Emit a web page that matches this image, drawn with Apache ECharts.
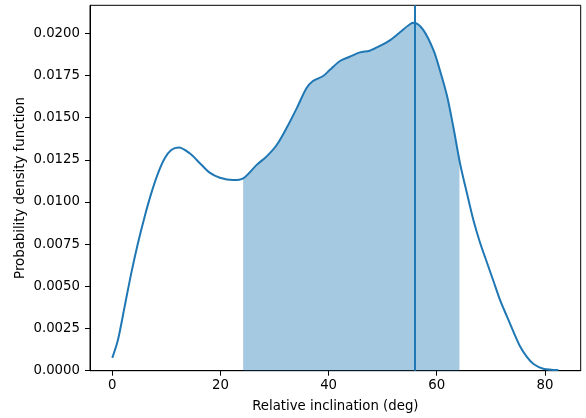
<!DOCTYPE html>
<html>
<head>
<meta charset="utf-8">
<script src="https://cdn.jsdelivr.net/npm/echarts@6/dist/echarts.min.js"></script>
<style>
html,body{margin:0;padding:0;background:#fff;}
#chart{width:586px;height:418px;}
</style>
</head>
<body>
<div id="chart"></div>
<script>
const xs = [0, 1.04, 2.28, 3.5, 4.74, 5.98, 7.2, 8.45, 9.7, 10.9, 12.3, 14.3, 16.2, 18.0, 19.9, 22.3, 24.2, 26.7, 28.5, 30.4, 32.2, 34.1, 35.9, 37.1, 39.0, 40.2, 42.1, 43.9, 45.8, 47.6, 49.5, 51.4, 53.2, 55.1, 55.8, 57.5, 59.4, 60.6, 61.9, 63.1, 64.3, 65.6, 66.8, 68.0, 69.3, 70.5, 71.7, 73.0, 74.2, 75.4, 76.7, 77.9, 79.7, 82.5];
const ys = [0.00076, 0.00182, 0.0038, 0.00577, 0.00755, 0.00913, 0.01051, 0.0117, 0.01259, 0.01308, 0.01323, 0.01289, 0.0123, 0.01174, 0.01144, 0.0113, 0.0114, 0.0122, 0.01269, 0.01338, 0.01437, 0.01555, 0.01674, 0.01717, 0.01747, 0.01782, 0.01836, 0.01861, 0.01887, 0.01897, 0.01925, 0.0196, 0.02006, 0.02055, 0.02062, 0.0202, 0.0190, 0.0178, 0.0163, 0.0144, 0.0123, 0.0105, 0.0089, 0.0076, 0.0064, 0.0053, 0.0042, 0.0032, 0.0023, 0.00145, 0.0008, 0.0004, 0.00012, 0.00004];
const fillRange = [24.2, 64.2];
const modeLine = 55.85;
const xTicks = [0, 20, 40, 60, 80];
const yTicks = [0, 0.0025, 0.005, 0.0075, 0.01, 0.0125, 0.015, 0.0175, 0.02];

function interp(x) {
  for (let i = 0; i < xs.length - 1; i++) {
    if (x >= xs[i] && x <= xs[i + 1]) {
      const t = (x - xs[i]) / (xs[i + 1] - xs[i]);
      return ys[i] + t * (ys[i + 1] - ys[i]);
    }
  }
  return 0;
}
const lineData = xs.map((x, i) => [x, ys[i]]);
const fillData = [[fillRange[0], interp(fillRange[0])]];
xs.forEach((x, i) => { if (x > fillRange[0] && x < fillRange[1]) fillData.push([x, ys[i]]); });
fillData.push([fillRange[1], interp(fillRange[1])]);

const font = 'DejaVu Sans';
const chart = echarts.init(document.getElementById('chart'), null, {renderer: 'canvas'});
chart.setOption({
  animation: false,
  backgroundColor: '#fff',
  grid: {left: 90, right: 5.3, top: 5.3, bottom: 47.3, show: true, borderColor: '#000', borderWidth: 1, backgroundColor: 'transparent'},
  xAxis: {
    type: 'value', min: -4.125, max: 86.625,
    name: 'Relative inclination (deg)', nameLocation: 'middle', nameGap: 29,
    nameTextStyle: {fontFamily: font, fontSize: 13.3, color: '#000'},
    axisLine: {show: true, onZero: false, lineStyle: {color: '#000', width: 1}},
    axisTick: {show: true, length: 5, lineStyle: {color: '#000'}, customValues: xTicks},
    axisLabel: {fontFamily: font, fontSize: 13.3, color: '#000', margin: 8, customValues: xTicks},
    splitLine: {show: false}
  },
  yAxis: {
    type: 'value', min: 0, max: 0.02166,
    name: 'Probability density function', nameLocation: 'middle', nameGap: 63, nameMoveOverlap: false,
    nameTextStyle: {fontFamily: font, fontSize: 13.3, color: '#000'},
    axisLine: {show: true, onZero: false, lineStyle: {color: '#000', width: 1}},
    axisTick: {show: true, length: 5, lineStyle: {color: '#000'}, customValues: yTicks},
    axisLabel: {fontFamily: font, fontSize: 13.3, color: '#000', margin: 10, customValues: yTicks,
      formatter: v => v.toFixed(4)},
    splitLine: {show: false}
  },
  series: [
    {
      type: 'line', data: fillData, smooth: 0.3, symbol: 'none', z: 1,
      lineStyle: {width: 0, opacity: 0},
      areaStyle: {color: '#1f77b4', opacity: 0.4, origin: 'start'}
    },
    {
      type: 'line', data: lineData, smooth: 0.3, symbol: 'none', z: 3,
      lineStyle: {color: '#1f77b4', width: 2},
      markLine: {
        silent: true, symbol: 'none', label: {show: false},
        lineStyle: {color: '#1f77b4', width: 2, type: 'solid'},
        data: [{xAxis: modeLine}]
      }
    }
  ]
});
</script>
</body>
</html>
